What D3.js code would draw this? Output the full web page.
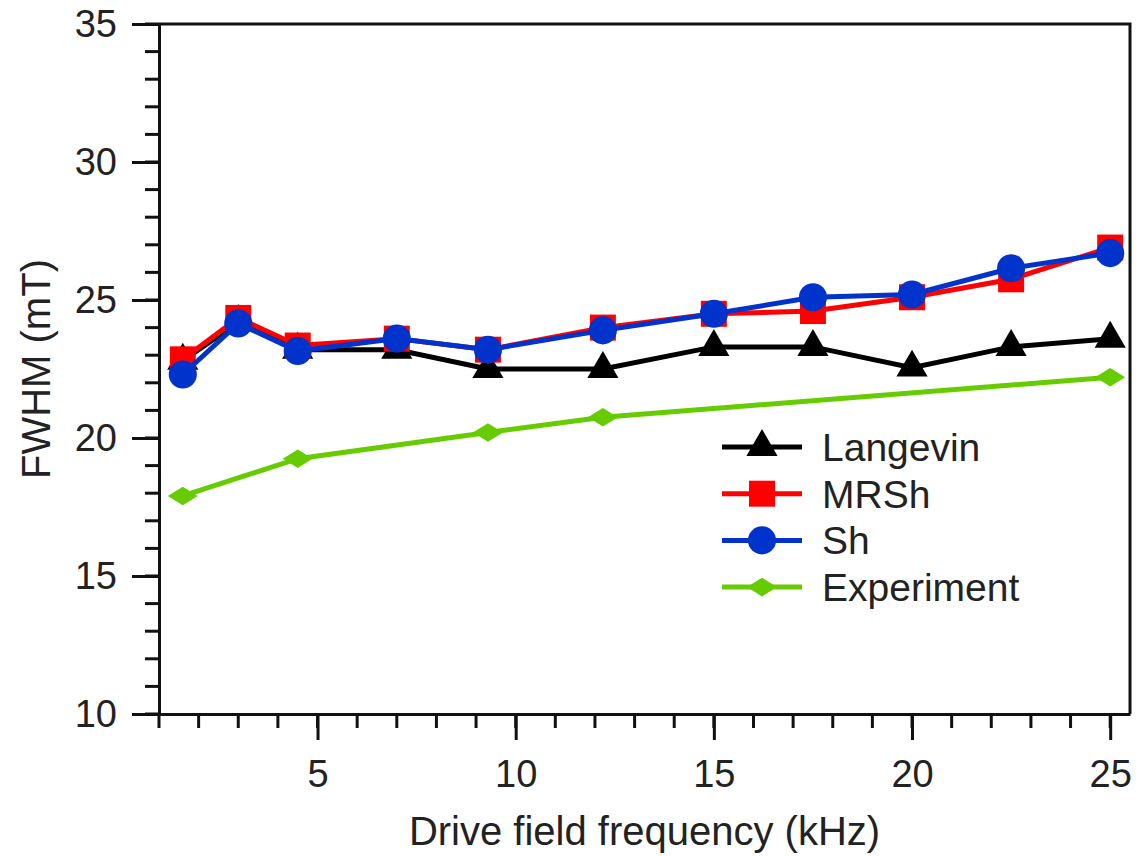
<!DOCTYPE html>
<html>
  <head>
    <meta charset="utf-8">
    <title>FWHM vs drive field frequency</title>
    <script src="https://d3js.org/d3.v7.min.js"></script>
    <style>
      body { margin: 0; background: #fff; }
      svg text { font-family: Arial, "Liberation Sans", sans-serif; fill: #222; }
    </style>
  </head>
  <body>
    <svg id="chart" width="1147" height="856"></svg>
    <script>
      // data
      var freq = [1.6, 3, 4.5, 7, 9.3, 12.2, 15, 17.5, 20, 22.5, 25];
      var langevin = [22.8, 24.2, 23.2, 23.2, 22.5, 22.5, 23.3, 23.3, 22.55, 23.3, 23.6];
      var mrsh = [22.85, 24.35, 23.35, 23.6, 23.2, 24.0, 24.5, 24.6, 25.1, 25.75, 26.9];
      var sh = [22.3, 24.15, 23.15, 23.6, 23.2, 23.9, 24.5, 25.1, 25.2, 26.15, 26.7];
      var expFreq = [1.6, 4.5, 9.3, 12.2, 25];
      var experiment = [17.9, 19.25, 20.2, 20.75, 22.2];
      var xTicks = [5, 10, 15, 20, 25];
      var yTicks = [10, 15, 20, 25, 30, 35];

      var svg = d3.select("#chart");
      var plotLeft = 159, plotRight = 1130, plotTop = 24, plotBottom = 714;

      var x = d3.scaleLinear().domain([1, 25.5]).range([plotLeft, plotRight]);
      var y = d3.scaleLinear().domain([10, 35]).range([plotBottom, plotTop]);

      // diamond flattened a bit, like the green markers
      var flatDiamond = {
        draw: function(context, size) {
          var w = Math.sqrt(size) * 0.75, h = w * 0.62;
          context.moveTo(-w, 0);
          context.lineTo(0, -h);
          context.lineTo(w, 0);
          context.lineTo(0, h);
          context.closePath();
        }
      };

      var series = [
        { name: "Experiment", xs: expFreq, ys: experiment, color: "#66cc00", symbol: flatDiamond, size: 400 },
        { name: "Langevin", xs: freq, ys: langevin, color: "#000000", symbol: d3.symbolTriangle, size: 420 },
        { name: "MRSh", xs: freq, ys: mrsh, color: "#ff0000", symbol: d3.symbolSquare, size: 676 },
        { name: "Sh", xs: freq, ys: sh, color: "#0033cc", symbol: d3.symbolCircle, size: 620 }
      ];

      // minor ticks
      var minor = svg.append("g").attr("stroke", "#111").attr("stroke-width", 3);
      minor.selectAll(".xm")
        .data(d3.range(1, 26))
        .enter().append("line")
          .attr("x1", function(d) { return x(d); })
          .attr("x2", function(d) { return x(d); })
          .attr("y1", plotBottom)
          .attr("y2", plotBottom + 14);
      minor.selectAll(".ym")
        .data(d3.range(10, 36))
        .enter().append("line")
          .attr("y1", function(d) { return y(d); })
          .attr("y2", function(d) { return y(d); })
          .attr("x1", plotLeft)
          .attr("x2", plotLeft - 14);

      // axes
      var xAxis = d3.axisBottom(x).tickValues(xTicks).tickSize(26).tickPadding(20).tickSizeOuter(0);
      var yAxis = d3.axisLeft(y).tickValues(yTicks).tickSize(27).tickPadding(15).tickSizeOuter(0);

      var gx = svg.append("g").attr("transform", "translate(0," + plotBottom + ")").call(xAxis);
      var gy = svg.append("g").attr("transform", "translate(" + plotLeft + ",0)").call(yAxis);
      [gx, gy].forEach(function(g) {
        g.selectAll("path, line").attr("stroke", "#111").attr("stroke-width", 3);
        g.selectAll("text").style("font-size", "38px").attr("fill", "#1a1a1a");
      });

      // frame top and right
      svg.append("path")
        .attr("d", "M" + plotLeft + "," + plotTop + "H" + plotRight + "V" + plotBottom)
        .attr("fill", "none")
        .attr("stroke", "#111")
        .attr("stroke-width", 3);

      // series
      var line = d3.line()
        .x(function(d) { return x(d[0]); })
        .y(function(d) { return y(d[1]); });

      series.forEach(function(s) {
        var pts = d3.zip(s.xs, s.ys);
        svg.append("path")
          .datum(pts)
          .attr("d", line)
          .attr("fill", "none")
          .attr("stroke", s.color)
          .attr("stroke-width", 5);
        svg.selectAll(null)
          .data(pts)
          .enter().append("path")
            .attr("d", d3.symbol().type(s.symbol).size(s.size))
            .attr("transform", function(d) { return "translate(" + x(d[0]) + "," + y(d[1]) + ")"; })
            .attr("fill", s.color);
      });

      // legend
      var legendOrder = ["Langevin", "MRSh", "Sh", "Experiment"];
      var legend = svg.append("g").attr("transform", "translate(722,447)");
      legendOrder.forEach(function(name, i) {
        var s = series.find(function(e) { return e.name === name; });
        var g = legend.append("g").attr("transform", "translate(0," + (i * 46.7) + ")");
        g.append("line")
          .attr("x1", 0).attr("x2", 80)
          .attr("stroke", s.color)
          .attr("stroke-width", 5);
        g.append("path")
          .attr("d", d3.symbol().type(s.symbol).size(s.size))
          .attr("transform", "translate(40,0)")
          .attr("fill", s.color);
        g.append("text")
          .attr("x", 100)
          .attr("dy", "0.36em")
          .attr("fill", "#1a1a1a")
          .style("font-size", "39px")
          .text(name);
      });

      // axis titles
      svg.append("text")
        .attr("x", (plotLeft + plotRight) / 2)
        .attr("y", 845)
        .attr("text-anchor", "middle")
        .attr("fill", "#1a1a1a")
        .style("font-size", "40px")
        .text("Drive field frequency (kHz)");
      svg.append("text")
        .attr("transform", "translate(50," + ((plotTop + plotBottom) / 2) + ") rotate(-90)")
        .attr("text-anchor", "middle")
        .attr("fill", "#1a1a1a")
        .style("font-size", "40px")
        .text("FWHM (mT)");
    </script>
  </body>
</html>
